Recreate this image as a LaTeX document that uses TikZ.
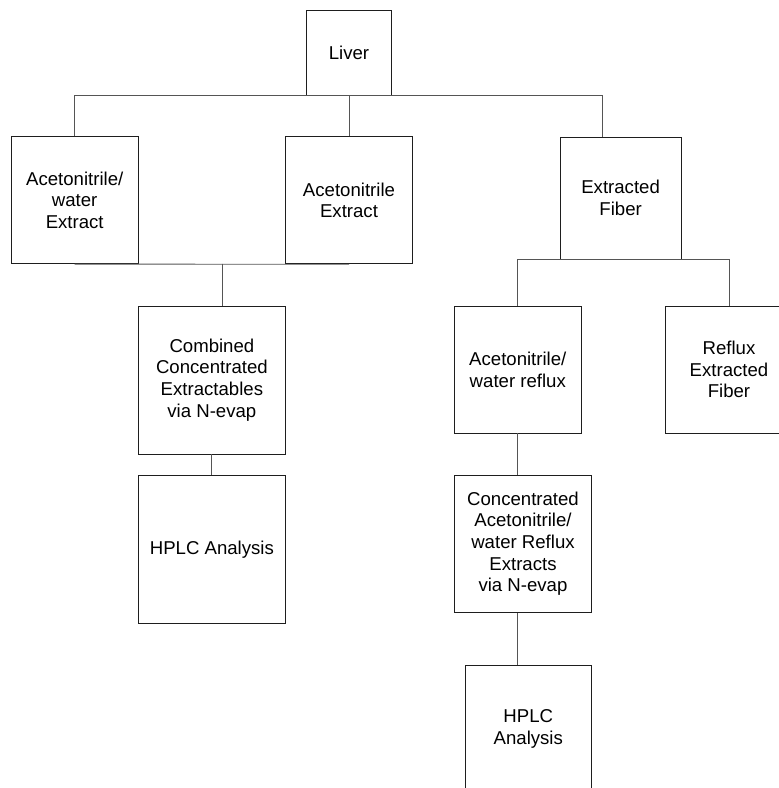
\documentclass[tikz,border=0pt]{standalone}
\usepackage{fontspec}
\setsansfont{Liberation Sans}
\usetikzlibrary{calc,positioning}
\definecolor{edge}{RGB}{30,30,30}
\definecolor{wire}{RGB}{85,85,85}
\tikzset{
  box/.style={
    draw=edge,
    line width=.9pt,
    align=center,
    text=black,
    font=\sffamily\fontsize{18.6}{21.7}\selectfont,
    minimum width=127pt,
    minimum height=127pt,
    inner sep=2pt
  },
  small box/.style={box,minimum width=84.3pt,minimum height=84.7pt},
  tall box/.style={box,minimum width=147.7pt,minimum height=148pt},
  fiber box/.style={box,minimum width=121.3pt,minimum height=122pt},
  conc box/.style={box,minimum width=137.4pt,minimum height=137.3pt},
  link/.style={
    draw=wire,
    line width=.9pt
  }
}

\begin{document}
\begin{tikzpicture}[x=1pt,y=-1pt]
  \clip (0,0) rectangle (779,788);
  \node[small box] (liver)    at (349,52.6)    {Liver};
  \node[box]       (aqext)    at (74.7,200.2)  {Acetonitrile/\\water\\Extract};
  \node[box]       (acnext)   at (349,200.3)   {Acetonitrile\\Extract};
  \node[fiber box] (fiber)    at (620.6,198)   {Extracted\\Fiber};
  \node[tall box]  (combined) at (211.9,380)   {Combined\\Concentrated\\Extractables\\via N-evap};
  \node[tall box]  (hplcA)    at (211.9,549.2) {HPLC Analysis};
  \node[box]       (reflux)   at (517.8,369.5) {Acetonitrile/\\water reflux};
  \node[box]       (rfiber)   at (729,369.5)   {Reflux\\Extracted\\Fiber};
  \node[conc box]  (conc)     at (523,543.7)   {Concentrated\\Acetonitrile/\\water Reflux\\Extracts\\via N-evap};
  \node[box,minimum width=126.7pt] (hplcB) at (528.3,729) {HPLC\\Analysis};

  \coordinate (fibertap) at ([xshift=-18.3pt]fiber.north);
  \coordinate (mergetap) at (222.3,263.7);

  % liver split
  \draw[link] (aqext.north) |- (liver.south) -| (fibertap);
  \draw[link] (liver.south) -- (acnext.north);

  % extracts merged
  \draw[link] (aqext.south) -- (acnext.south);
  \draw[link] (mergetap) -- (mergetap |- combined.north);
  \draw[link] (combined) -- (hplcA);

  % fiber branch
  \draw[link] (reflux.north) |- (fiber.south) -| (rfiber.north);
  \draw[link] (reflux.south) -- (reflux.south |- conc.north);
  \draw[link] (reflux.south |- conc.south) -- (reflux.south |- hplcB.north);
\end{tikzpicture}
\end{document}
